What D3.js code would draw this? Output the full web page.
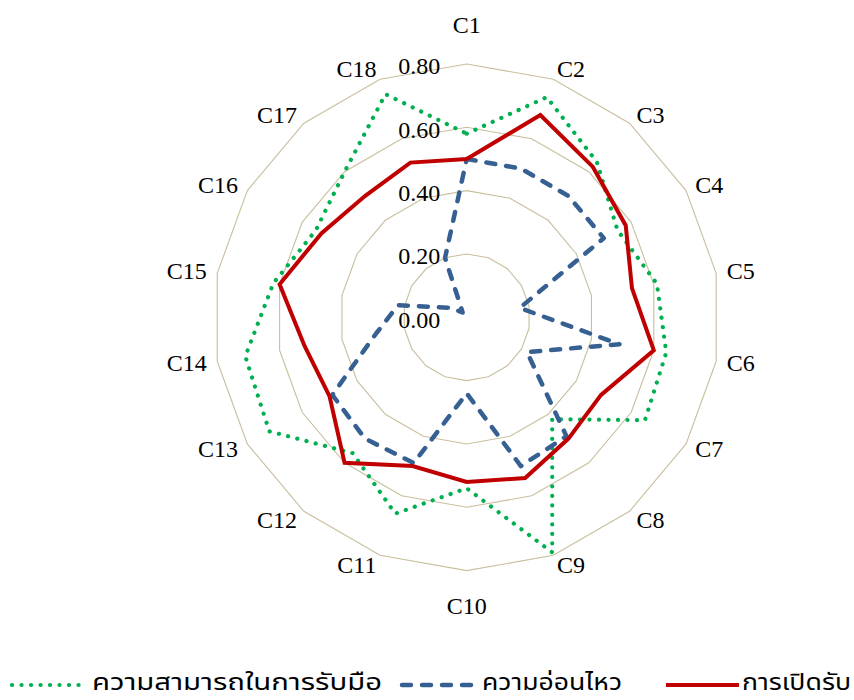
<!DOCTYPE html>
<html>
<head>
<meta charset="utf-8">
<script src="https://cdn.jsdelivr.net/npm/d3@7"></script>
<style>
  html, body { margin: 0; padding: 0; background: #ffffff; }
  svg { display: block; }
</style>
</head>
<body>
<svg id="chart" width="854" height="700"></svg>
<script>
// Categories around the radar, clockwise from the top
const categories = ["C1","C2","C3","C4","C5","C6","C7","C8","C9","C10","C11","C12","C13","C14","C15","C16","C17","C18"];

// Series values
const copingCapacity = [0.58,0.74,0.64,0.55,0.61,0.64,0.65,0.42,0.79,0.54,0.66,0.56,0.72,0.71,0.62,0.55,0.60,0.75];
const sensitivity    = [0.50,0.50,0.50,0.50,0.17,0.49,0.22,0.49,0.50,0.24,0.49,0.50,0.49,0.29,0.22,0.06,0.02,0.20];
const exposure       = [0.50,0.68,0.62,0.58,0.53,0.60,0.49,0.50,0.54,0.52,0.50,0.60,0.50,0.52,0.60,0.53,0.50,0.52];

// Radial axis ticks
const tickValues = [0, 0.2, 0.4, 0.6, 0.8];
const tickLabels = ["0.00", "0.20", "0.40", "0.60", "0.80"];

const seriesNames = ["ความสามารถในการรับมือ", "ความอ่อนไหว", "การเปิดรับ"];

const series = [
  { name: seriesNames[0], values: copingCapacity, color: "#00b050", width: 4.2, dash: "0.1 9.4", cap: "round", join: "round" },
  { name: seriesNames[1], values: sensitivity,    color: "#376092", width: 4.5, dash: "9 11",   cap: "round", join: "round" },
  { name: seriesNames[2], values: exposure,       color: "#c00000", width: 4,   dash: null,     cap: "butt",  join: "miter" }
];

const svg = d3.select("#chart");
const cx = 466.7, cy = 317.3;
const outerR = 253.3;

const r = d3.scaleLinear().domain([0, 0.8]).range([0, outerR]);
const angle = d3.scaleLinear().domain([0, categories.length]).range([0, 2 * Math.PI]);

const g = svg.append("g").attr("transform", `translate(${cx},${cy})`);

const pt = (i, v) => {
  const a = angle(i);
  return [r(v) * Math.sin(a), -r(v) * Math.cos(a)];
};

// Grid rings
tickValues.filter(t => t > 0).forEach(t => {
  const ring = categories.map((c, i) => pt(i, t));
  g.append("path")
    .attr("d", d3.line().curve(d3.curveLinearClosed)(ring))
    .attr("fill", "none")
    .attr("stroke", "#c9bf9e")
    .attr("stroke-width", 1.1);
});

// Series lines
const radial = d3.line().curve(d3.curveLinearClosed);
series.forEach(s => {
  g.append("path")
    .attr("d", radial(s.values.map((v, i) => pt(i, v))))
    .attr("fill", "none")
    .attr("stroke", s.color)
    .attr("stroke-width", s.width)
    .attr("stroke-dasharray", s.dash)
    .attr("stroke-linecap", s.cap)
    .attr("stroke-linejoin", s.join);
});

// Radial axis labels
const fontSerif = "'Liberation Serif', 'Times New Roman', serif";
g.selectAll("text.tick")
  .data(tickValues)
  .join("text")
  .attr("class", "tick")
  .attr("x", -26.5)
  .attr("y", d => -r(d) + 2.4)
  .attr("text-anchor", "end")
  .attr("dominant-baseline", "central")
  .attr("font-family", fontSerif)
  .attr("font-size", 24)
  .attr("fill", "#000")
  .text((d, i) => tickLabels[i]);

// Category labels
const labelR = outerR + 10.7;
g.selectAll("text.cat")
  .data(categories)
  .join("text")
  .attr("class", "cat")
  .each(function (d, i) {
    const a = angle(i);
    const s = Math.sin(a), c = Math.cos(a);
    let x = labelR * s, y = -labelR * c;
    let anchor = "middle";
    if (Math.abs(s) < 0.05) {
      y += c > 0 ? -28 : 25;
    } else {
      anchor = s > 0 ? "start" : "end";
    }
    d3.select(this)
      .attr("x", x)
      .attr("y", y)
      .attr("text-anchor", anchor)
      .attr("dominant-baseline", "central");
  })
  .attr("font-family", fontSerif)
  .attr("font-size", 24)
  .attr("fill", "#000")
  .text(d => d);

// Legend
const legendY = 683;
const legendItems = [
  { s: series[0], x0: 12, x1: 86, tx: 92, tw: 290 },
  { s: series[1], x0: 402, x1: 476, tx: 482, tw: 140 },
  { s: series[2], x0: 666, x1: 739, tx: 742, tw: 109 }
];
const lg = svg.append("g");
legendItems.forEach(it => {
  lg.append("line")
    .attr("x1", it.x0).attr("x2", it.x1)
    .attr("y1", legendY + 2).attr("y2", legendY + 2)
    .attr("stroke", it.s.color)
    .attr("stroke-width", it.s.width)
    .attr("stroke-dasharray", it.s.dash)
    .attr("stroke-linecap", it.s.cap);
  lg.append("text")
    .attr("x", it.tx)
    .attr("y", legendY)
    .attr("dominant-baseline", "central")
    .attr("font-family", "'Noto Sans Thai', 'Noto Sans', 'DejaVu Sans', sans-serif")
    .attr("font-size", 23)
    .attr("textLength", it.tw)
    .attr("lengthAdjust", "spacingAndGlyphs")
    .attr("fill", "#000")
    .text(it.s.name);
});
</script>
</body>
</html>
